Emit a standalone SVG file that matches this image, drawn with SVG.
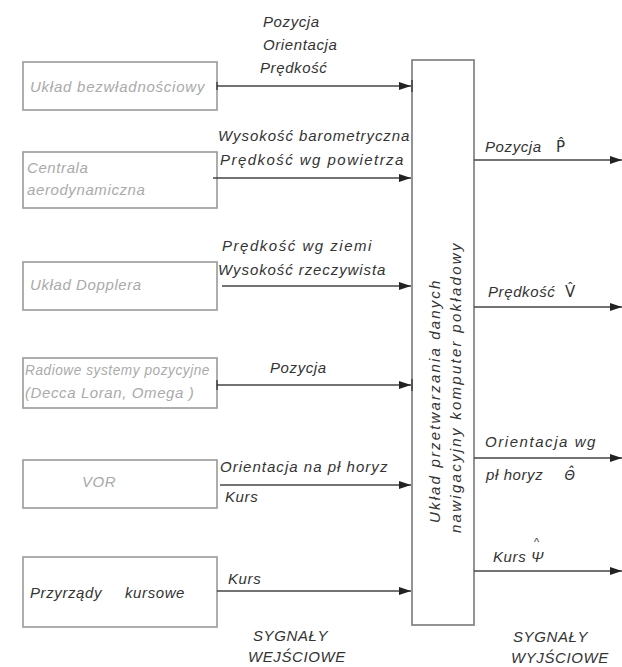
<svg xmlns="http://www.w3.org/2000/svg" width="622" height="667" viewBox="0 0 622 667">
<style>
text{font-family:"Liberation Sans",Arial,sans-serif;font-style:italic;font-size:15px;fill:#333;letter-spacing:0.6px}
.faint{fill:#aaa}
.sym{font-family:"DejaVu Sans",sans-serif;font-style:normal;font-size:15px;letter-spacing:0}
.gsym{font-family:"Noto Sans",sans-serif;font-style:italic;font-size:15px;letter-spacing:0}
.hat{font-size:11px;font-style:normal;letter-spacing:0}
.box{fill:none;stroke:#999;stroke-width:1.6}
.cbox{fill:none;stroke:#888;stroke-width:1.8}
.ln{fill:none;stroke:#444;stroke-width:1.5}
.tick{stroke:#333;stroke-width:1.3}
</style>
<defs>
<marker id="ah" viewBox="0 0 12 8" refX="12" refY="4" markerWidth="12" markerHeight="8" markerUnits="userSpaceOnUse" orient="auto">
<path d="M0,0 L12,4 L0,8 Z" fill="#222"/>
</marker>
</defs>
<rect width="622" height="667" fill="#fff"/>

<g id="n1"><rect class="box" x="23" y="62" width="194" height="48"/><text class="faint" x="30" y="92" textLength="175" lengthAdjust="spacing">Układ bezwładnościowy</text></g>
<g id="n2"><rect class="box" x="23" y="152" width="194" height="56"/><text class="faint" x="27" y="173">Centrala</text><text class="faint" x="27" y="195">aerodynamiczna</text></g>
<g id="n3"><rect class="box" x="23" y="262" width="194" height="48"/><text class="faint" x="30" y="290">Układ  Dopplera</text></g>
<g id="n4"><rect class="box" x="23" y="358" width="194" height="50"/><text class="faint" x="25" y="375" textLength="185" lengthAdjust="spacingAndGlyphs">Radiowe systemy pozycyjne</text><text class="faint" x="25" y="398">(Decca Loran, Omega )</text></g>
<g id="n5"><rect class="box" x="23" y="460" width="194" height="48"/><text class="faint" x="82" y="487">VOR</text></g>
<g id="n6"><rect class="box" x="23" y="557" width="194" height="70"/><text x="30" y="598">Przyrządy</text><text x="125" y="598">kursowe</text></g>

<g id="center"><rect class="cbox" x="412" y="60" width="62" height="565"/>
<text transform="translate(440,523) rotate(-90)" textLength="243" lengthAdjust="spacing">Układ przetwarzania danych</text>
<text transform="translate(461,533) rotate(-90)" textLength="290" lengthAdjust="spacing">nawigacyjny komputer pokładowy</text>
</g>

<g id="connectors">
<line class="ln" x1="217" y1="86" x2="411" y2="86" marker-end="url(#ah)"/>
<line class="tick" x1="412" y1="80" x2="412" y2="92"/>
<line class="tick" x1="217" y1="82" x2="217" y2="90"/>
<line class="ln" x1="213" y1="178" x2="411" y2="178" marker-end="url(#ah)"/>
<line class="ln" x1="222" y1="286" x2="411" y2="286" marker-end="url(#ah)"/>
<line class="ln" x1="217" y1="385" x2="411" y2="385" marker-end="url(#ah)"/>
<line class="tick" x1="412" y1="379" x2="412" y2="391"/>
<line class="tick" x1="217" y1="380" x2="217" y2="390"/>
<line class="ln" x1="220" y1="485" x2="411" y2="485" marker-end="url(#ah)"/>
<line class="ln" x1="217" y1="591" x2="411" y2="591" marker-end="url(#ah)"/>
<line class="ln" x1="474" y1="160" x2="622" y2="160" marker-end="url(#ah)"/>
<line class="ln" x1="474" y1="307" x2="622" y2="307" marker-end="url(#ah)"/>
<line class="ln" x1="474" y1="458" x2="622" y2="458" marker-end="url(#ah)"/>
<line class="ln" x1="474" y1="571" x2="622" y2="571" marker-end="url(#ah)"/>
</g>

<g id="labels">
<text x="263" y="27">Pozycja</text>
<text x="263" y="50">Orientacja</text>
<text x="260" y="73">Prędkość</text>
<text x="218" y="141" textLength="192" lengthAdjust="spacing">Wysokość barometryczna</text>
<text x="220" y="165" textLength="184" lengthAdjust="spacing">Prędkość wg powietrza</text>
<text x="222" y="251" textLength="150" lengthAdjust="spacing">Prędkość wg ziemi</text>
<text x="218" y="275" textLength="168" lengthAdjust="spacing">Wysokość rzeczywista</text>
<text x="270" y="373">Pozycja</text>
<text x="220" y="472" textLength="168" lengthAdjust="spacing">Orientacja na pł horyz</text>
<text x="225" y="502">Kurs</text>
<text x="228" y="584">Kurs</text>
<text x="253" y="641">SYGNAŁY</text>
<text x="248" y="662">WEJŚCIOWE</text>
<text x="485" y="152">Pozycja  <tspan class="sym" x="556">P̂</tspan></text>
<text x="488" y="297">Prędkość  <tspan class="sym" x="565">V̂</tspan></text>
<text x="485" y="447" textLength="111" lengthAdjust="spacing">Orientacja wg</text>
<text x="486" y="480">pł horyz  <tspan class="gsym" x="564">Θ̂</tspan></text>
<text x="493" y="562">Kurs <tspan x="531">Ψ</tspan><tspan class="hat" x="534" y="546">^</tspan></text>
<text x="513" y="642">SYGNAŁY</text>
<text x="511" y="663">WYJŚCIOWE</text>
</g>
</svg>
